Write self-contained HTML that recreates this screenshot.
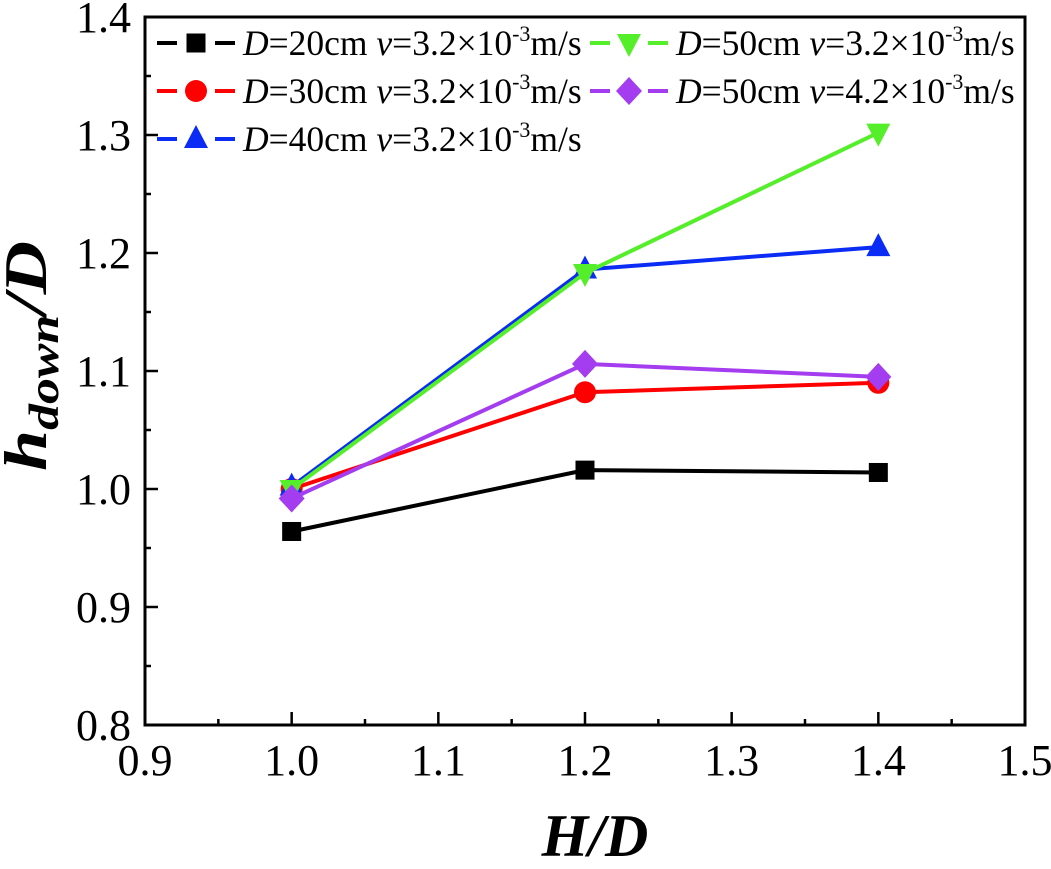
<!DOCTYPE html>
<html><head><meta charset="utf-8"><style>
body{margin:0;background:#fff}
svg text{font-family:"Liberation Serif",serif}
</style></head><body>
<svg id="chart" width="1051" height="864" xmlns="http://www.w3.org/2000/svg">
<g id="plot"></g>
</svg>
<script>
const xValues=[1.0,1.2,1.4];
const seriesBlack=[0.964,1.016,1.014];
const seriesRed=[1.0,1.082,1.09];
const seriesBlue=[1.002,1.186,1.205];
const seriesGreen=[1.0,1.183,1.302];
const seriesPurple=[0.992,1.106,1.095];
const xTicks=["0.9","1.0","1.1","1.2","1.3","1.4","1.5"];
const yTicks=["0.8","0.9","1.0","1.1","1.2","1.3","1.4"];
const L=145,R=1025,T=17,B=725;
const X=v=>L+(v-0.9)/0.6*(R-L);
const Y=v=>B-(v-0.8)/0.6*(B-T);
const NS="http://www.w3.org/2000/svg";
const g=document.getElementById('plot');
function mk(t,a,p){const e=document.createElementNS(NS,t);for(const k in a)e.setAttribute(k,a[k]);(p||g).appendChild(e);return e;}
for(let i=0;i<=12;i++){const v=0.9+i*0.05;const x=X(v);const len=i%2?6:13;
const t=mk('line',{x1:x,x2:x,y1:B,y2:B-len,stroke:'#000','stroke-width':2.5});}
for(let i=0;i<=12;i++){const v=0.8+i*0.05;const y=Y(v);const len=i%2?6:13;
const t=mk('line',{x1:L,x2:L+len,y1:y,y2:y,stroke:'#000','stroke-width':2.5});}
xTicks.forEach((s,i)=>{const t=mk('text',{x:X(0.9+i*0.1),y:B+50,'font-size':44,'text-anchor':'middle'});t.textContent=s;});
yTicks.forEach((s,i)=>{const t=mk('text',{x:L-14,y:Y(0.8+i*0.1)+15,'font-size':44,'text-anchor':'end'});t.textContent=s;});
const frame=mk('rect',{x:L,y:T,width:R-L,height:B-T,fill:'none',stroke:'#000','stroke-width':3});

function marker(type,x,y,c,p,k){k=k||1;
 if(type==='sq')return mk('rect',{x:x-9.5*k,y:y-9.5*k,width:19*k,height:19*k,fill:c},p);
 if(type==='ci')return mk('circle',{cx:x,cy:y,r:11*k,fill:c},p);
 if(type==='up')return mk('polygon',{points:`${x},${y-14*k} ${x-12*k},${y+9*k} ${x+12*k},${y+9*k}`,fill:c},p);
 if(type==='dn')return mk('polygon',{points:`${x},${y+14*k} ${x-12*k},${y-9*k} ${x+12*k},${y-9*k}`,fill:c},p);
 return mk('polygon',{points:`${x},${y-14*k} ${x+13*k},${y} ${x},${y+14*k} ${x-13*k},${y}`,fill:c},p);
}
const series=[
 {name:'d20',data:seriesBlack,c:'#000',m:'sq'},
 {name:'d30',data:seriesRed,c:'#f00',m:'ci'},
 {name:'d40',data:seriesBlue,c:'#0a2cf5',m:'up'},
 {name:'d50-v32',data:seriesGreen,c:'#55ee2a',m:'dn'},
 {name:'d50-v42',data:seriesPurple,c:'#a43cf0',m:'di'}];
series.forEach(s=>{
 const grp=mk('g',{});
 const pl=mk('polyline',{points:s.data.map((v,i)=>X(xValues[i])+','+Y(v)).join(' '),fill:'none',stroke:s.c,'stroke-width':4},grp);
 
 s.data.forEach((v,i)=>{const m=marker(s.m,X(xValues[i]),Y(v),s.c,grp);});
});
const leg=[["20","3.2",0],["30","3.2",1],["40","3.2",2],["50","3.2",3],["50","4.2",4]];
const pos=[[157,43],[157,91],[157,139],[590,43],[590,91]];
leg.forEach((l,i)=>{const s=series[l[2]];const [x,y]=pos[i];
 const lg=mk('g',{});
 mk('line',{x1:x,x2:x+78,y1:y,y2:y,stroke:s.c,'stroke-width':4},lg);
 mk('rect',{x:x+20,y:y-3,width:38,height:6,fill:'#fff'},lg);
 marker(s.m,x+39,y,s.c,lg);
 const tx=mk('text',{x:x+86,y:y+12,'font-size':35.5},lg);
 tx.innerHTML=`<tspan font-style="italic">D</tspan>=${l[0]}cm <tspan font-style="italic">v</tspan>=${l[1]}×10<tspan font-size="22" dy="-14">-3</tspan><tspan dy="14">m/s</tspan>`;
});
const xt=mk('text',{x:595,y:856,'font-size':60,'font-weight':'bold','font-style':'italic','text-anchor':'middle'});
xt.textContent='H/D';
const yt=mk('text',{transform:'translate(46,356) rotate(-90)','font-size':60,'font-weight':'bold','font-style':'italic','text-anchor':'middle',textLength:230,lengthAdjust:'spacingAndGlyphs'});
yt.innerHTML='h<tspan font-size="42" dy="12">down</tspan><tspan dy="-12">/D</tspan>';

</script>
</body></html>
